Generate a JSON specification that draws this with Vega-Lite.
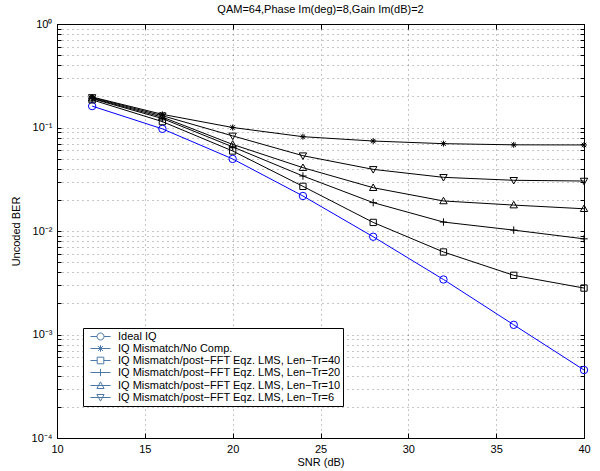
{
  "$schema": "https://vega.github.io/schema/vega-lite/v6.json",
  "autosize": {"type": "none"},
  "padding": {"left": 57, "top": 24, "right": 16, "bottom": 33},
  "width": 527,
  "height": 414,
  "background": "white",
  "title": {"text": "QAM=64,Phase Im(deg)=8,Gain Im(dB)=2", "font": "Liberation Sans", "fontSize": 11, "fontWeight": "normal", "color": "#000", "anchor": "middle", "offset": 3},
  "config": {
    "view": {"stroke": "#000", "strokeWidth": 1},
    "axis": {"labelFont": "Liberation Sans", "labelFontSize": 11, "labelColor": "#000", "titleFont": "Liberation Sans", "titleFontSize": 11, "titleFontWeight": "normal", "titleColor": "#000", "domainColor": "#000", "tickColor": "#000", "gridColor": "#000", "gridOpacity": 0.45, "gridDash": [1, 4], "gridWidth": 1}
  },
  "data": {"values": [
    {"snr": 12, "ber": 0.161, "series": "Ideal IQ"},
    {"snr": 16, "ber": 0.097, "series": "Ideal IQ"},
    {"snr": 20, "ber": 0.0497, "series": "Ideal IQ"},
    {"snr": 24, "ber": 0.0218, "series": "Ideal IQ"},
    {"snr": 28, "ber": 0.0088, "series": "Ideal IQ"},
    {"snr": 32, "ber": 0.0034, "series": "Ideal IQ"},
    {"snr": 36, "ber": 0.00124, "series": "Ideal IQ"},
    {"snr": 40, "ber": 0.000454, "series": "Ideal IQ"},
    {"snr": 12, "ber": 0.197, "series": "IQ Mismatch/No Comp."},
    {"snr": 16, "ber": 0.134, "series": "IQ Mismatch/No Comp."},
    {"snr": 20, "ber": 0.100, "series": "IQ Mismatch/No Comp."},
    {"snr": 24, "ber": 0.0815, "series": "IQ Mismatch/No Comp."},
    {"snr": 28, "ber": 0.074, "series": "IQ Mismatch/No Comp."},
    {"snr": 32, "ber": 0.0698, "series": "IQ Mismatch/No Comp."},
    {"snr": 36, "ber": 0.068, "series": "IQ Mismatch/No Comp."},
    {"snr": 40, "ber": 0.0678, "series": "IQ Mismatch/No Comp."},
    {"snr": 12, "ber": 0.185, "series": "IQ Mismatch/post−FFT Eqz. LMS, Len−Tr=40"},
    {"snr": 16, "ber": 0.114, "series": "IQ Mismatch/post−FFT Eqz. LMS, Len−Tr=40"},
    {"snr": 20, "ber": 0.0593, "series": "IQ Mismatch/post−FFT Eqz. LMS, Len−Tr=40"},
    {"snr": 24, "ber": 0.027, "series": "IQ Mismatch/post−FFT Eqz. LMS, Len−Tr=40"},
    {"snr": 28, "ber": 0.0121, "series": "IQ Mismatch/post−FFT Eqz. LMS, Len−Tr=40"},
    {"snr": 32, "ber": 0.00627, "series": "IQ Mismatch/post−FFT Eqz. LMS, Len−Tr=40"},
    {"snr": 36, "ber": 0.00373, "series": "IQ Mismatch/post−FFT Eqz. LMS, Len−Tr=40"},
    {"snr": 40, "ber": 0.00281, "series": "IQ Mismatch/post−FFT Eqz. LMS, Len−Tr=40"},
    {"snr": 12, "ber": 0.19, "series": "IQ Mismatch/post−FFT Eqz. LMS, Len−Tr=20"},
    {"snr": 16, "ber": 0.122, "series": "IQ Mismatch/post−FFT Eqz. LMS, Len−Tr=20"},
    {"snr": 20, "ber": 0.065, "series": "IQ Mismatch/post−FFT Eqz. LMS, Len−Tr=20"},
    {"snr": 24, "ber": 0.034, "series": "IQ Mismatch/post−FFT Eqz. LMS, Len−Tr=20"},
    {"snr": 28, "ber": 0.0188, "series": "IQ Mismatch/post−FFT Eqz. LMS, Len−Tr=20"},
    {"snr": 32, "ber": 0.0122, "series": "IQ Mismatch/post−FFT Eqz. LMS, Len−Tr=20"},
    {"snr": 36, "ber": 0.0102, "series": "IQ Mismatch/post−FFT Eqz. LMS, Len−Tr=20"},
    {"snr": 40, "ber": 0.0084, "series": "IQ Mismatch/post−FFT Eqz. LMS, Len−Tr=20"},
    {"snr": 12, "ber": 0.192, "series": "IQ Mismatch/post−FFT Eqz. LMS, Len−Tr=10"},
    {"snr": 16, "ber": 0.126, "series": "IQ Mismatch/post−FFT Eqz. LMS, Len−Tr=10"},
    {"snr": 20, "ber": 0.0686, "series": "IQ Mismatch/post−FFT Eqz. LMS, Len−Tr=10"},
    {"snr": 24, "ber": 0.0409, "series": "IQ Mismatch/post−FFT Eqz. LMS, Len−Tr=10"},
    {"snr": 28, "ber": 0.0262, "series": "IQ Mismatch/post−FFT Eqz. LMS, Len−Tr=10"},
    {"snr": 32, "ber": 0.0195, "series": "IQ Mismatch/post−FFT Eqz. LMS, Len−Tr=10"},
    {"snr": 36, "ber": 0.0178, "series": "IQ Mismatch/post−FFT Eqz. LMS, Len−Tr=10"},
    {"snr": 40, "ber": 0.0164, "series": "IQ Mismatch/post−FFT Eqz. LMS, Len−Tr=10"},
    {"snr": 12, "ber": 0.195, "series": "IQ Mismatch/post−FFT Eqz. LMS, Len−Tr=6"},
    {"snr": 16, "ber": 0.13, "series": "IQ Mismatch/post−FFT Eqz. LMS, Len−Tr=6"},
    {"snr": 20, "ber": 0.083, "series": "IQ Mismatch/post−FFT Eqz. LMS, Len−Tr=6"},
    {"snr": 24, "ber": 0.0534, "series": "IQ Mismatch/post−FFT Eqz. LMS, Len−Tr=6"},
    {"snr": 28, "ber": 0.0394, "series": "IQ Mismatch/post−FFT Eqz. LMS, Len−Tr=6"},
    {"snr": 32, "ber": 0.033, "series": "IQ Mismatch/post−FFT Eqz. LMS, Len−Tr=6"},
    {"snr": 36, "ber": 0.0309, "series": "IQ Mismatch/post−FFT Eqz. LMS, Len−Tr=6"},
    {"snr": 40, "ber": 0.0304, "series": "IQ Mismatch/post−FFT Eqz. LMS, Len−Tr=6"}
  ]},
  "resolve": {"axis": {"x": "independent", "y": "independent"}, "scale": {"shape": "independent"}},
  "layer": [
    {
      "mark": {"type": "line", "strokeWidth": 1},
      "encoding": {
        "x": {"field": "snr", "type": "quantitative", "scale": {"domain": [10, 40], "nice": false},
          "axis": {"orient": "bottom", "title": "SNR (dB)", "values": [10, 15, 20, 25, 30, 35, 40], "grid": true, "tickSize": -5, "labelPadding": 10, "titlePadding": 2, "labelFlush": false}},
        "y": {"field": "ber", "type": "quantitative", "scale": {"type": "log", "domain": [0.0001, 1], "nice": false},
          "axis": {"orient": "left", "title": "Uncoded BER", "grid": true, "tickSize": -4, "labelPadding": 9, "titlePadding": 10, "labelFlush": false, "labelOverlap": false,
            "values": [0.0001, 0.0002, 0.0003, 0.0004, 0.0005, 0.0006, 0.0007, 0.0008, 0.0009, 0.001, 0.002, 0.003, 0.004, 0.005, 0.006, 0.007, 0.008, 0.009, 0.01, 0.02, 0.03, 0.04, 0.05, 0.06, 0.07, 0.08, 0.09, 0.1, 0.2, 0.3, 0.4, 0.5, 0.6, 0.7, 0.8, 0.9, 1],
            "labelExpr": "abs(log(datum.value)/LN10 - round(log(datum.value)/LN10)) < 0.001 ? ['10⁰','10⁻¹','10⁻²','10⁻³','10⁻⁴'][-round(log(datum.value)/LN10)] : ''"}},
        "color": {"field": "series", "type": "nominal", "legend": null,
          "scale": {"domain": ["Ideal IQ", "IQ Mismatch/No Comp.", "IQ Mismatch/post−FFT Eqz. LMS, Len−Tr=40", "IQ Mismatch/post−FFT Eqz. LMS, Len−Tr=20", "IQ Mismatch/post−FFT Eqz. LMS, Len−Tr=10", "IQ Mismatch/post−FFT Eqz. LMS, Len−Tr=6"], "range": ["#0000ff", "#000000", "#000000", "#000000", "#000000", "#000000"]}}
      }
    },
    {
      "mark": {"type": "point", "filled": false, "strokeWidth": 1, "size": 55, "opacity": 1},
      "encoding": {
        "x": {"field": "snr", "type": "quantitative", "axis": {"orient": "top", "title": null, "labels": false, "grid": false, "tickSize": -5, "values": [10, 15, 20, 25, 30, 35, 40]}},
        "y": {"field": "ber", "type": "quantitative", "axis": {"orient": "right", "title": null, "labels": false, "grid": false, "tickSize": -4,
            "values": [0.0001, 0.0002, 0.0003, 0.0004, 0.0005, 0.0006, 0.0007, 0.0008, 0.0009, 0.001, 0.002, 0.003, 0.004, 0.005, 0.006, 0.007, 0.008, 0.009, 0.01, 0.02, 0.03, 0.04, 0.05, 0.06, 0.07, 0.08, 0.09, 0.1, 0.2, 0.3, 0.4, 0.5, 0.6, 0.7, 0.8, 0.9, 1]}},
        "color": {"field": "series", "type": "nominal", "legend": null},
        "shape": {"field": "series", "type": "nominal", "legend": null,
          "scale": {"domain": ["Ideal IQ", "IQ Mismatch/No Comp.", "IQ Mismatch/post−FFT Eqz. LMS, Len−Tr=40", "IQ Mismatch/post−FFT Eqz. LMS, Len−Tr=20", "IQ Mismatch/post−FFT Eqz. LMS, Len−Tr=10", "IQ Mismatch/post−FFT Eqz. LMS, Len−Tr=6"],
            "range": ["circle", "M-0.8,0H0.8M0,-0.8V0.8M-0.6,-0.6L0.6,0.6M-0.6,0.6L0.6,-0.6", "M-0.85,-0.85H0.85V0.85H-0.85Z", "M-1,0H1M0,-1V1", "M0,-1L1,0.75H-1Z", "M0,1L1,-0.75H-1Z"]}}
      }
    },
    {
      "mark": {"type": "point", "filled": false, "opacity": 0},
      "encoding": {
        "x": {"field": "snr", "type": "quantitative", "axis": null},
        "y": {"field": "ber", "type": "quantitative", "axis": null},
        "shape": {"field": "series", "type": "nominal",
          "scale": {"domain": ["Ideal IQ", "IQ Mismatch/No Comp.", "IQ Mismatch/post−FFT Eqz. LMS, Len−Tr=40", "IQ Mismatch/post−FFT Eqz. LMS, Len−Tr=20", "IQ Mismatch/post−FFT Eqz. LMS, Len−Tr=10", "IQ Mismatch/post−FFT Eqz. LMS, Len−Tr=6"],
            "range": [
              "M-0.17,0H0.92M2.08,0H3.17M2.08,0A0.58,0.58 0 1,1 0.92,0A0.58,0.58 0 1,1 2.08,0",
              "M-0.17,0H3.17M1.5,-0.55V0.55M1.1,-0.4L1.9,0.4M1.1,0.4L1.9,-0.4",
              "M-0.17,0H0.95M2.05,0H3.17M0.95,-0.55H2.05V0.55H0.95Z",
              "M-0.17,0H3.17M1.5,-0.6V0.6",
              "M-0.17,0H3.17M1.5,-0.6L2.1,0.5H0.9Z",
              "M-0.17,0H3.17M1.5,0.6L2.1,-0.5H0.9Z"
            ]},
          "legend": {"title": null, "orient": "none", "legendX": 26, "legendY": 304, "padding": 2, "symbolSize": 144, "symbolStrokeWidth": 1, "labelOffset": 20, "labelFont": "Liberation Sans", "labelFontSize": 11, "labelColor": "#000", "labelLimit": 400, "rowPadding": 0, "fillColor": "#fff", "strokeColor": "#000",
            "encode": {"symbols": {"update": {"opacity": {"value": 1}, "fill": {"value": "transparent"}, "stroke": {"signal": "datum.value === 'Ideal IQ' ? '#0000ff' : '#000000'"}}}}}
        }
      }
    }
  ]
}
